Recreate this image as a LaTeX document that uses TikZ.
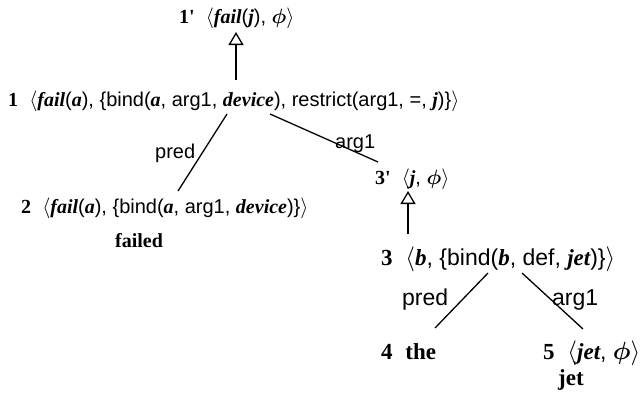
\documentclass[tikz,border=0pt]{standalone}
\usepackage{fontspec}
\usepackage{amsmath}
\setmainfont{Liberation Serif}
\setsansfont{Liberation Sans}
\usetikzlibrary{arrows.meta}
\newcommand{\iv}[1]{{\rmfamily\bfseries\itshape #1}}
\newcommand{\nb}[1]{{\rmfamily\bfseries #1}}
\newcommand{\la}{{\rmfamily$\langle$}}
\newcommand{\ra}{{\rmfamily$\rangle$}}
\newcommand{\ph}{$\boldsymbol{\phi}$}
\newcommand{\pr}{\textquotesingle}
\begin{document}
\begin{tikzpicture}[x=1pt,y=-1pt,
  lbl/.style={anchor=base west,inner sep=0pt,font=\sffamily\fontsize{20}{23}\selectfont},
  big/.style={lbl,font=\sffamily\fontsize{23}{26}\selectfont},
  edge/.style={line width=1.3pt},
  sub/.style={edge,-{Triangle[open,width=15pt,length=13pt,line width=1.3pt]}}]
\useasboundingbox (0,0) rectangle (642,392);
\node[lbl] (n1p) at (179,23) {\nb{1\pr}~~\la\iv{fail}(\iv{j}), \ph\ra};
\node[lbl] (n1) at (8,106) {\nb{1}~~\la\iv{fail}(\iv{a}), \{bind(\iv{a}, arg1, \iv{device}), restrict(arg1, =, \iv{j})\}\ra};
\node[lbl] (n3p) at (375,184) {\nb{3\pr}~~\la\iv{j}, \ph\ra};
\node[lbl] (n2) at (21,213) {\nb{2}~~\la\iv{fail}(\iv{a}), \{bind(\iv{a}, arg1, \iv{device})\}\ra};
\node[lbl] (w2) at (115,247) {\nb{failed}};
\node[big] (n3) at (381,265) {\nb{3}~~\la\iv{b}, \{bind(\iv{b}, def, \iv{jet})\}\ra};
\node[big] (n4) at (381,359) {\nb{4}~~\nb{the}};
\node[big] (n5) at (543,359) {\nb{5}~~\la\iv{jet}, \ph\ra};
\node[big] (w5) at (558,385) {\nb{jet}};
% connector end points
\coordinate (a1) at (236,80);
\coordinate (a1t) at (236,32);
\coordinate (p1a) at (227,114);
\coordinate (p1b) at (178,191);
\coordinate (q1a) at (270,114);
\coordinate (q1b) at (378,162);
\coordinate (a3) at (408,234);
\coordinate (a3t) at (408,191);
\coordinate (p3a) at (488,273);
\coordinate (p3b) at (435,328);
\coordinate (q3a) at (522,273);
\coordinate (q3b) at (583,329);
\draw[sub] (a1) -- (a1t);
\draw[sub] (a3) -- (a3t);
\draw[edge] (p1a) -- (p1b);
\draw[edge] (q1a) -- (q1b);
\draw[edge] (p3a) -- (p3b);
\draw[edge] (q3a) -- (q3b);
\node[lbl] (l1) at (155,158) {pred};
\node[lbl] (l2) at (335,148) {arg1};
\node[big] (l3) at (402,305) {pred};
\node[big] (l4) at (552,305) {arg1};
\end{tikzpicture}
\end{document}
